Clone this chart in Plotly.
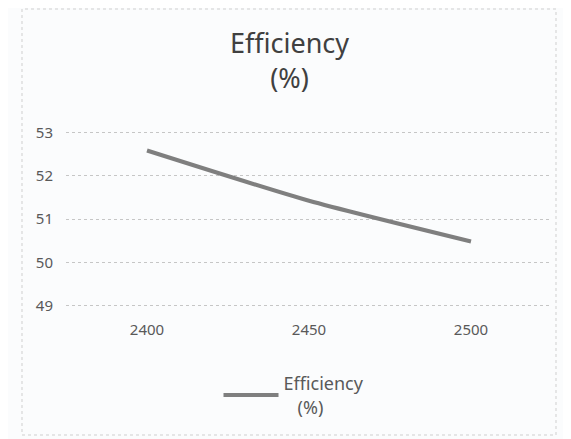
import plotly.graph_objects as go

# Data
speeds = ["2400", "2450", "2500"]
efficiency = [52.58, 51.42, 50.48]

FONT = "Noto Sans"
TEXT_GREY = "#595959"

# the page body adds an 8px offset, so the figure is 8px smaller than the window
W, H = 563, 431
L, R, T, B = 58, 19, 120, 129
PW, PH = W - L - R, H - T - B

fig = go.Figure()

fig.add_trace(
    go.Scatter(
        x=speeds,
        y=efficiency,
        name="Efficiency<br>&nbsp;&nbsp;&nbsp;(%)",
        mode="lines",
        line=dict(color="#7f7f7f", width=4, shape="spline", smoothing=0.6),
    )
)

fig.update_layout(
    width=W,
    height=H,
    paper_bgcolor="#fbfcfd",
    plot_bgcolor="#fbfcfd",
    font=dict(family=FONT, color=TEXT_GREY, size=15),
    title=dict(
        text="Efficiency<br>(%)",
        x=0.5,
        xanchor="center",
        y=0.895,
        yanchor="middle",
        font=dict(family=FONT, size=27, color="#404040"),
    ),
    xaxis=dict(
        type="category",
        range=[-0.5, 2.5],
        showgrid=False,
        showline=False,
        zeroline=False,
        ticks="outside",
        ticklen=6,
        tickcolor="rgba(0,0,0,0)",
        tickfont=dict(size=15, color=TEXT_GREY),
    ),
    yaxis=dict(
        range=[48.9, 53.1],
        dtick=1,
        tick0=49,
        showgrid=True,
        gridcolor="#c6c6c6",
        griddash="dot",
        gridwidth=1,
        zeroline=False,
        showline=False,
        ticklabelstandoff=12,
        tickfont=dict(size=15, color=TEXT_GREY),
    ),
    showlegend=True,
    legend=dict(
        x=0.5 - 15 / PW,
        xanchor="center",
        y=-0.467,
        yanchor="middle",
        itemwidth=55,
        bgcolor="rgba(0,0,0,0)",
        font=dict(size=18, color=TEXT_GREY),
    ),
    margin=dict(l=L, r=R, t=T, b=B),
    shapes=[
        dict(
            type="rect",
            xref="paper",
            yref="paper",
            x0=(14 - L) / PW,
            x1=1 + (548 - (W - R)) / PW,
            y0=-(427 - (H - B)) / PH,
            y1=1 + (T - 1) / PH,
            line=dict(color="#cfcfcf", width=1, dash="dot"),
        )
    ],
)

fig.write_html("out.html")
